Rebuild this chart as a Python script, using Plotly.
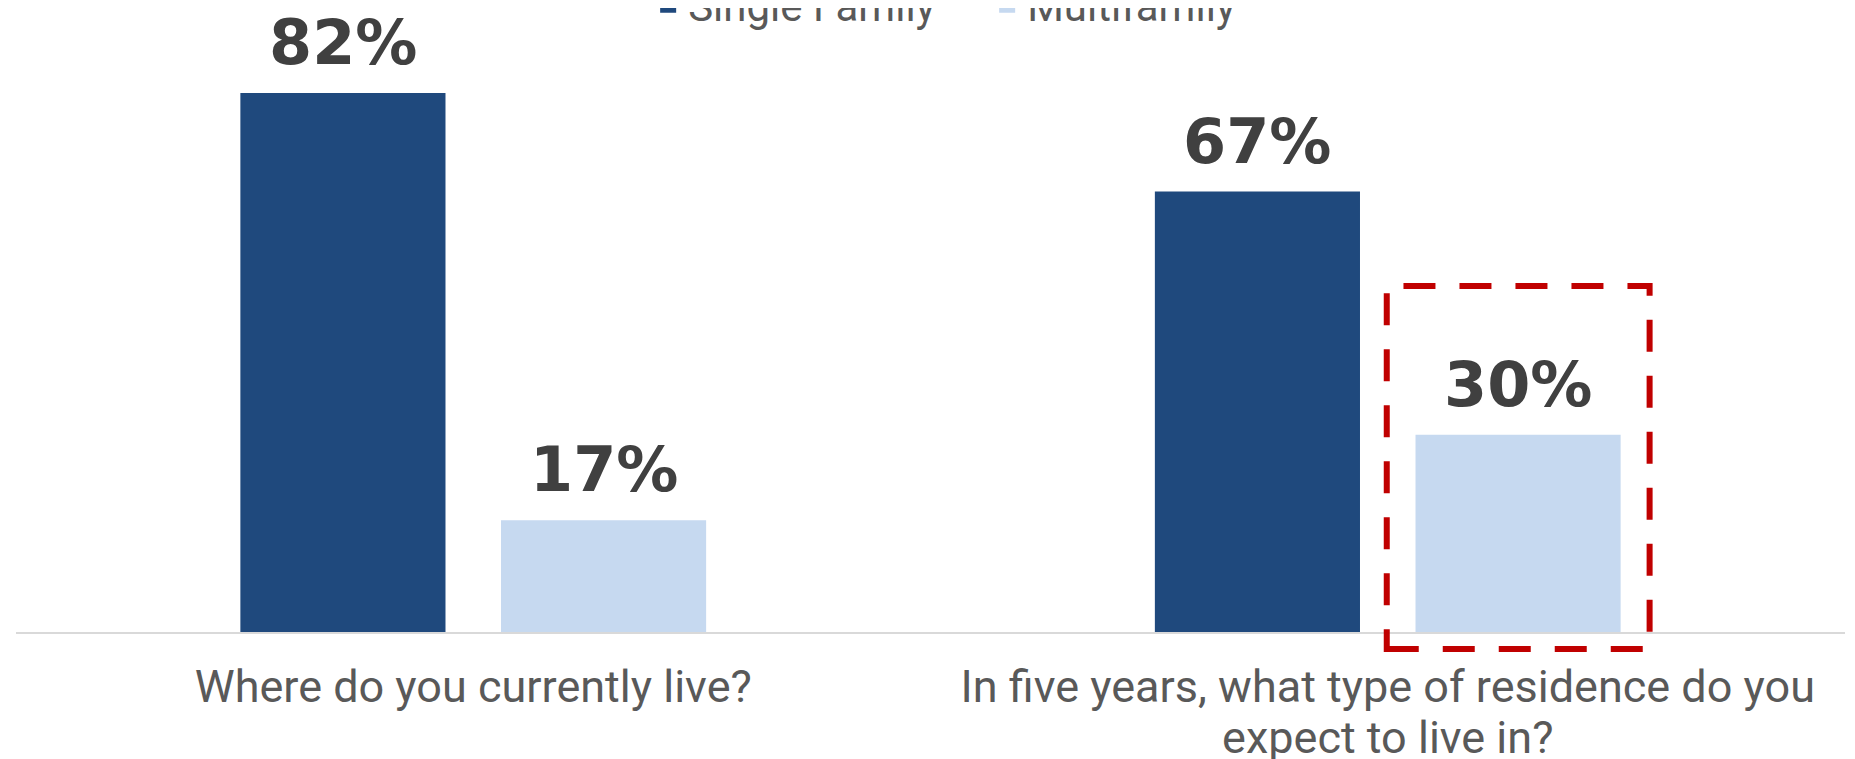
import plotly.graph_objects as go

categories = ["Where do you currently live?",
              "In five years, what type of residence do you<br>expect to live in?"]
series_names = ["Single Family", "Multifamily"]
single_family = [82, 67]
multifamily = [17, 30]
colors = ["#1F497D", "#C6D9F0"]

# page body has an 8px margin; figure sized to fit the 1855x759 window
OFF = 8
W, H = 1855 - OFF, 759 - OFF
ML, MR, MT, MB = 7.5, 9.5, 32, 127
plot_w = W - ML - MR
plot_h = H - MT - MB

fig = go.Figure()
for name, vals, col in zip(series_names, [single_family, multifamily], colors):
    fig.add_trace(go.Bar(x=categories, y=vals, name=name, marker_color=col,
                         marker_line_width=0, hoverinfo="skip", showlegend=False))
    # legend entry with a larger square swatch
    fig.add_trace(go.Scatter(x=[None], y=[None], name=name, mode="markers",
                             marker=dict(symbol="square", size=22, color=col),
                             hoverinfo="skip"))

label_font = dict(family="DejaVu Sans, sans-serif", size=62, color="#404040")
for k, vals in enumerate([single_family, multifamily]):
    shift = -130.5 if k == 0 else 130.5
    for c, v in zip(categories, vals):
        fig.add_annotation(x=c, y=v, xref="x", yref="y", text=f"<b>{v}%</b>",
                           showarrow=False, yanchor="bottom", xshift=shift, yshift=12,
                           font=label_font)

def px_x(p):
    return (p - OFF - ML) / plot_w

def px_y(p):
    return (H - MB - (p - OFF)) / plot_h

fig.add_shape(type="rect", xref="paper", yref="paper",
              x0=px_x(1387), x1=px_x(1650), y0=px_y(649), y1=px_y(286),
              line=dict(color="#C00000", width=6, dash="32px,24px"),
              fillcolor="rgba(0,0,0,0)")

tick_text = [f'<span style="font-size:45px">{c}</span>' for c in categories]

fig.update_layout(
    width=W, height=H,
    margin=dict(l=ML, r=MR, t=MT, b=MB, autoexpand=False),
    paper_bgcolor="white", plot_bgcolor="white",
    barmode="group", bargap=0.43, bargroupgap=0.213,
    font=dict(family="Roboto, sans-serif", color="#595959"),
    showlegend=True,
    legend=dict(orientation="h", x=px_x(648), xanchor="left",
                y=px_y(5), yanchor="middle",
                font=dict(size=42, color="#595959"),
                bgcolor="rgba(0,0,0,0)", itemsizing="trace",
                entrywidth=294, entrywidthmode="pixels"),
    xaxis=dict(showline=True, linecolor="#D9D9D9", linewidth=2,
               showgrid=False, ticks="", tickfont=dict(size=39, color="#595959"),
               tickmode="array", tickvals=categories, ticktext=tick_text,
               ticklabelstandoff=21, range=[-0.5, 1.5]),
    yaxis=dict(visible=False, range=[0, plot_h / 6.573]),
)

fig.write_html("out.html")
